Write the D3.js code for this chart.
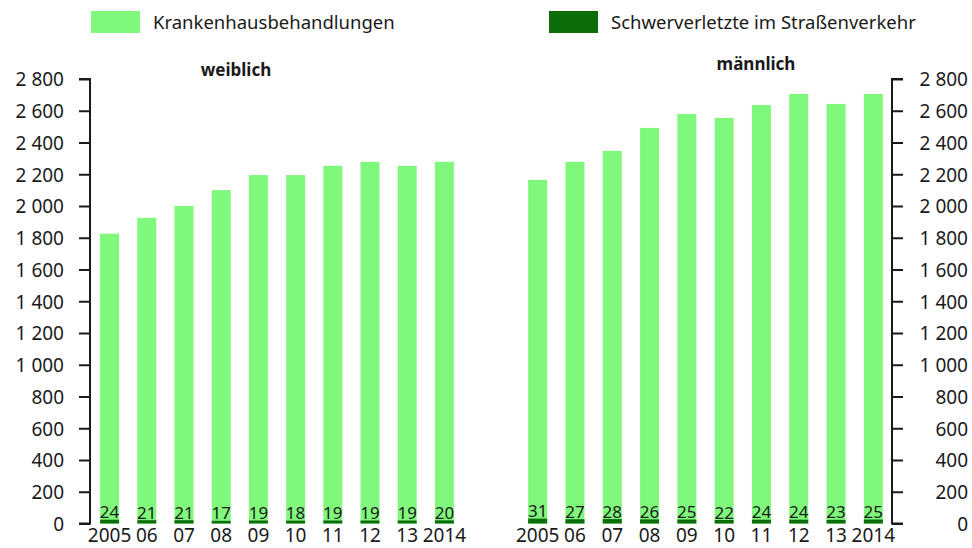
<!DOCTYPE html>
<html>
<head>
<meta charset="utf-8">
<script src="https://cdn.jsdelivr.net/npm/d3@7"></script>
<style>
  body { margin: 0; background: #fff; }
  svg text { font-family: "Noto Sans", sans-serif; fill: #1a1a1a; }
</style>
</head>
<body>
<svg id="viz"></svg>
<script>
const svg = d3.select("#viz")
  .attr("width", 972)
  .attr("height", 548);

// Daten
const years = ["2005", "06", "07", "08", "09", "10", "11", "12", "13", "2014"];
const krankenWeiblich = [1825, 1925, 2000, 2100, 2195, 2195, 2253, 2278, 2253, 2278];
const krankenMaennlich = [2165, 2278, 2347, 2492, 2580, 2555, 2636, 2706, 2643, 2706];
const schwerWeiblich = [24, 21, 21, 17, 19, 18, 19, 19, 19, 20];
const schwerMaennlich = [31, 27, 28, 26, 25, 22, 24, 24, 23, 25];
const yTicks = [0, 200, 400, 600, 800, 1000, 1200, 1400, 1600, 1800, 2000, 2200, 2400, 2600, 2800];

const lightGreen = "#80f87c";
const darkGreen = "#0b6e0b";

const y = d3.scaleLinear().domain([0, 2800]).range([523.5, 79]);
const fmt = d => d3.format(",")(d).replace(/,/g, " ");

function panel(opts) {
  const x = d3.scaleBand()
    .domain(years)
    .range(opts.range)
    .paddingInner(0.49)
    .paddingOuter(0.245);

  const g = svg.append("g");

  // helle Balken
  g.selectAll("rect.kh")
    .data(opts.kranken)
    .enter()
    .append("rect")
    .attr("class", "kh")
    .attr("x", (d, i) => x(years[i]))
    .attr("y", d => y(d))
    .attr("width", x.bandwidth())
    .attr("height", d => y(0) - y(d))
    .attr("fill", lightGreen);

  // dunkle Balken
  g.selectAll("rect.sv")
    .data(opts.schwer)
    .enter()
    .append("rect")
    .attr("class", "sv")
    .attr("x", (d, i) => x(years[i]))
    .attr("y", d => y(d))
    .attr("width", x.bandwidth())
    .attr("height", d => y(0) - y(d))
    .attr("fill", darkGreen);

  g.selectAll("text.lbl")
    .data(opts.schwer)
    .enter()
    .append("text")
    .attr("class", "lbl")
    .attr("x", (d, i) => x(years[i]) + x.bandwidth() / 2)
    .attr("y", d => y(d) - 1.5)
    .attr("text-anchor", "middle")
    .style("font-size", "17px")
    .text(d => d);

  // x labels
  g.selectAll("text.yr")
    .data(years)
    .enter()
    .append("text")
    .attr("class", "yr")
    .attr("x", d => x(d) + x.bandwidth() / 2)
    .attr("y", 542)
    .attr("text-anchor", "middle")
    .style("font-size", "19px")
    .text(d => d);

  // y axis
  const axis = (opts.side === "left" ? d3.axisLeft(y) : d3.axisRight(y))
    .tickValues(yTicks)
    .tickSize(11)
    .tickPadding(15)
    .tickFormat(fmt);

  const ax = svg.append("g")
    .attr("transform", `translate(${opts.axisX},0)`)
    .call(axis);
  ax.select(".domain")
    .attr("stroke", "#1a1a1a")
    .attr("stroke-width", 2)
    .attr("d", opts.side === "left"
      ? `M-11,${y(2800)}H0V${y(0)}H-11`
      : `M11,${y(2800)}H0V${y(0)}H11`);
  ax.selectAll(".tick line").attr("stroke", "#1a1a1a").attr("stroke-width", 2);
  ax.selectAll(".tick text")
    .style("font-size", "19px")
    .attr("dy", "0.36em")
    .attr("fill", "#1a1a1a");
  if (opts.side === "right") {
    ax.selectAll(".tick text").attr("text-anchor", "end").attr("x", 76);
  }

  svg.append("text")
    .attr("x", opts.titleX)
    .attr("y", opts.titleY)
    .attr("text-anchor", "middle")
    .style("font-size", "17px")
    .style("font-weight", "bold")
    .text(opts.title);
}

panel({
  range: [91, 463], kranken: krankenWeiblich, schwer: schwerWeiblich,
  side: "left", axisX: 90, title: "weiblich", titleX: 236, titleY: 76
});
panel({
  range: [519, 892], kranken: krankenMaennlich, schwer: schwerMaennlich,
  side: "right", axisX: 892, title: "männlich", titleX: 756, titleY: 70
});

// Legende
const legend = [
  { label: "Krankenhausbehandlungen", color: lightGreen, x: 91 },
  { label: "Schwerverletzte im Straßenverkehr", color: darkGreen, x: 549 }
];
const lg = svg.selectAll("g.legend")
  .data(legend)
  .enter()
  .append("g")
  .attr("class", "legend")
  .attr("transform", d => `translate(${d.x},11)`);
lg.append("rect")
  .attr("width", 49)
  .attr("height", 22)
  .attr("fill", d => d.color);
lg.append("text")
  .attr("x", 62)
  .attr("y", 18)
  .style("font-size", "18.5px")
  .text(d => d.label);
</script>
</body>
</html>
